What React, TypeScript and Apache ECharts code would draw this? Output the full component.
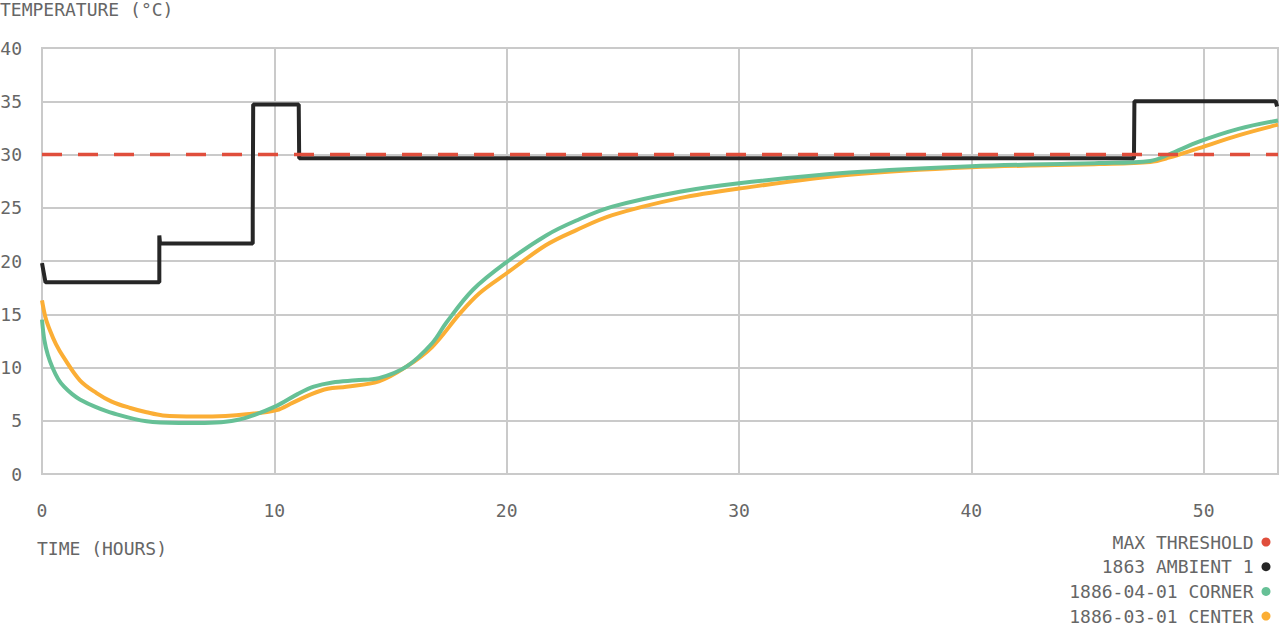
import React, { useEffect, useRef } from "react";
import * as echarts from "echarts";

const FONT = "'DejaVu Sans Mono', monospace";
const TEXT_COLOR = "#666666";
const GRID_COLOR = "#cacaca";
const FONT_SIZE = 18;

const seriesNames = ["MAX THRESHOLD", "1863 AMBIENT 1", "1886-04-01 CORNER", "1886-03-01 CENTER"];
const seriesColors = ["#e04e3c", "#262626", "#66c096", "#fbae35"];

const xTickInterval = 10;
const yTicks = [0, 5, 10, 15, 20, 25, 30, 35, 40];
const xMax = 53.2;

const thresholdHours = [0, 53.2];
const thresholdValues = [30, 30];

const ambientHours = [0, 0.15, 5.05, 5.05, 5.08, 9.07, 9.07, 9.09, 11.05, 11.07, 47.0, 47.02, 53.1, 53.16];
const ambientValues = [19.8, 18.0, 18.0, 22.4, 21.65, 21.65, 24.3, 34.7, 34.7, 29.65, 29.65, 35.0, 35.0, 34.5];

const cornerHours = [0, 0.1, 0.25, 0.45, 0.7, 0.95, 1.3, 1.63, 2.3, 3.06, 4.5, 5.9, 7.0, 7.9, 8.8, 10.1, 11.0, 11.7, 12.5, 13.5, 14.5, 15.7, 16.8, 17.4, 18.55, 20, 21.7, 23, 24.55, 27.45, 30, 34.75, 40, 45.5, 47.7, 48.5, 49.8, 51.5, 53.2];
const cornerValues = [14.5, 12.6, 11.2, 10.0, 8.9, 8.2, 7.5, 7.0, 6.3, 5.7, 4.95, 4.8, 4.8, 4.9, 5.3, 6.4, 7.5, 8.2, 8.6, 8.8, 9.0, 10.1, 12.3, 14.2, 17.3, 19.9, 22.4, 23.8, 25.1, 26.5, 27.3, 28.3, 28.9, 29.2, 29.4, 30.0, 31.2, 32.4, 33.2];

const centerHours = [0, 0.15, 0.34, 0.6, 0.92, 1.63, 2.35, 3.0, 3.8, 4.5, 5.2, 6.65, 7.9, 8.8, 10.1, 10.8, 11.6, 12.3, 13.1, 14.5, 15.7, 16.8, 18, 18.84, 20, 21.7, 23, 24.55, 27.45, 30, 34.75, 40, 45.5, 47.7, 48.5, 49.8, 51.5, 53.2];
const centerValues = [16.3, 14.7, 13.5, 12.2, 11.0, 8.8, 7.6, 6.8, 6.2, 5.8, 5.5, 5.4, 5.45, 5.6, 6.0, 6.7, 7.5, 8.0, 8.2, 8.7, 10.1, 11.95, 15.1, 17.0, 18.85, 21.5, 22.9, 24.3, 25.9, 26.8, 28.1, 28.8, 29.1, 29.3, 29.7, 30.6, 31.8, 32.8];

const pairs = (xs: number[], ys: number[]) => xs.map((x, i) => [x, ys[i]]);

export default function App() {
  const ref = useRef<HTMLDivElement>(null);

  useEffect(() => {
    if (!ref.current) return;
    const chart = echarts.init(ref.current, null, { renderer: "svg" });
    const textStyle = { fontFamily: FONT, fontSize: FONT_SIZE, color: TEXT_COLOR };
    chart.setOption({
      animation: false,
      backgroundColor: "#ffffff",
      textStyle: { fontFamily: FONT },
      grid: {
        left: 42,
        right: 2,
        top: 48,
        bottom: 152,
        outerBoundsMode: "none",
        containLabel: false,
        show: true,
        borderColor: GRID_COLOR,
        borderWidth: 2,
      },
      graphic: [
        { type: "text", left: 0, top: 0, style: { text: "TEMPERATURE (°C)", font: `${FONT_SIZE}px ${FONT}`, fill: TEXT_COLOR } },
        { type: "text", left: 37, top: 539, style: { text: "TIME (HOURS)", font: `${FONT_SIZE}px ${FONT}`, fill: TEXT_COLOR } },
      ],
      legend: {
        orient: "vertical",
        right: 9.5,
        top: 533,
        height: 200,
        padding: 0,
        align: "right",
        icon: "circle",
        itemWidth: 15,
        itemHeight: 9,
        itemGap: 6.7,
        data: seriesNames,
        textStyle: { ...textStyle, lineHeight: 17 },
      },
      xAxis: {
        type: "value",
        min: 0,
        max: xMax,
        interval: xTickInterval,
        axisLine: { show: true, lineStyle: { color: GRID_COLOR, width: 2 } },
        axisTick: { show: false },
        axisLabel: { ...textStyle, margin: 27, showMaxLabel: false },
        splitLine: { show: true, lineStyle: { color: GRID_COLOR, width: 2 } },
      },
      yAxis: {
        type: "value",
        min: yTicks[0],
        max: yTicks[yTicks.length - 1],
        interval: yTicks[1] - yTicks[0],
        axisLine: { show: true, lineStyle: { color: GRID_COLOR, width: 2 } },
        axisTick: { show: false },
        axisLabel: { ...textStyle, margin: 20 },
        splitLine: { show: true, lineStyle: { color: GRID_COLOR, width: 2 } },
      },
      series: [
        {
          name: seriesNames[3],
          type: "line",
          data: pairs(centerHours, centerValues),
          smooth: 0.35,
          showSymbol: false,
          color: seriesColors[3],
          lineStyle: { width: 4, color: seriesColors[3] },
          z: 2,
        },
        {
          name: seriesNames[2],
          type: "line",
          data: pairs(cornerHours, cornerValues),
          smooth: 0.35,
          showSymbol: false,
          color: seriesColors[2],
          lineStyle: { width: 4, color: seriesColors[2] },
          z: 3,
        },
        {
          name: seriesNames[1],
          type: "line",
          data: pairs(ambientHours, ambientValues),
          showSymbol: false,
          color: seriesColors[1],
          lineStyle: { width: 4, color: seriesColors[1] },
          z: 4,
        },
        {
          name: seriesNames[0],
          type: "line",
          data: pairs(thresholdHours, thresholdValues),
          showSymbol: false,
          color: seriesColors[0],
          lineStyle: { width: 3.5, color: seriesColors[0], type: [20, 16] },
          z: 5,
        },
      ],
    });
    return () => chart.dispose();
  }, []);

  return <div ref={ref} style={{ position: "fixed", left: 0, top: 0, width: 1280, height: 626 }} />;
}
